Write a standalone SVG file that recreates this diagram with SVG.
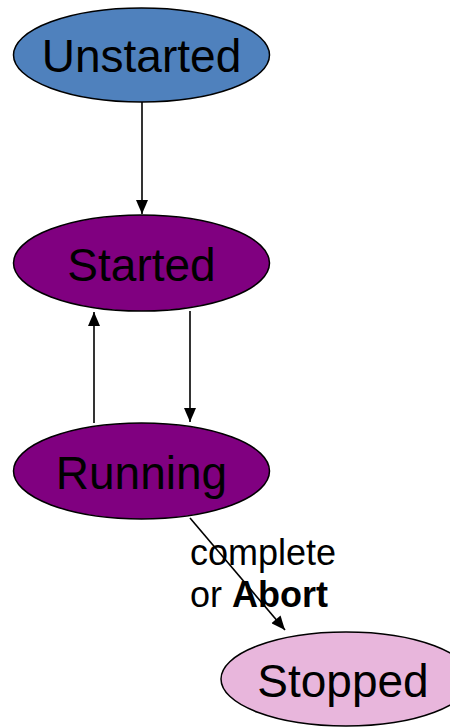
<svg xmlns="http://www.w3.org/2000/svg" width="450" height="727" viewBox="0 0 450 727">
<defs>
<marker id="arr" viewBox="0 0 14 12" refX="14" refY="6" markerWidth="15" markerHeight="12" markerUnits="userSpaceOnUse" orient="auto">
<path d="M0,0 L14,6 L0,12 Z" fill="#000"/>
</marker>
<style>
.node{stroke:#000;stroke-width:1.5}
.lbl{font-family:"Liberation Sans",Arial,sans-serif;font-size:46px;fill:#000;text-anchor:middle}
.edge{stroke:#000;stroke-width:1.6;fill:none;marker-end:url(#arr)}
.el{font-family:"Liberation Sans",Arial,sans-serif;font-size:36px;fill:#000}
</style>
</defs>
<rect width="450" height="727" fill="#fff"/>
<g id="unstarted">
<ellipse class="node" cx="141.5" cy="55" rx="128" ry="47" fill="#4F81BD"/>
<text class="lbl" x="141.5" y="72">Unstarted</text>
</g>
<g id="started">
<ellipse class="node" cx="141.5" cy="263" rx="128" ry="48" fill="#800080"/>
<text class="lbl" x="141.5" y="281">Started</text>
</g>
<g id="running">
<ellipse class="node" cx="141.5" cy="471" rx="128" ry="48" fill="#800080"/>
<text class="lbl" x="141.5" y="489">Running</text>
</g>
<g id="stopped">
<ellipse class="node" cx="346" cy="679" rx="125" ry="47" fill="#E8B6DC"/>
<text class="lbl" x="343" y="697">Stopped</text>
</g>
<g id="connectors">
<line class="edge" x1="142" y1="102" x2="142" y2="214"/>
<line class="edge" x1="190" y1="311" x2="190" y2="422"/>
<line class="edge" x1="94" y1="423" x2="94" y2="312"/>
<line class="edge" x1="190" y1="518" x2="285" y2="630"/>
<text class="el" x="190" y="565">complete</text>
<text class="el" x="190" y="607">or <tspan font-weight="bold">Abort</tspan></text>
</g>
</svg>
